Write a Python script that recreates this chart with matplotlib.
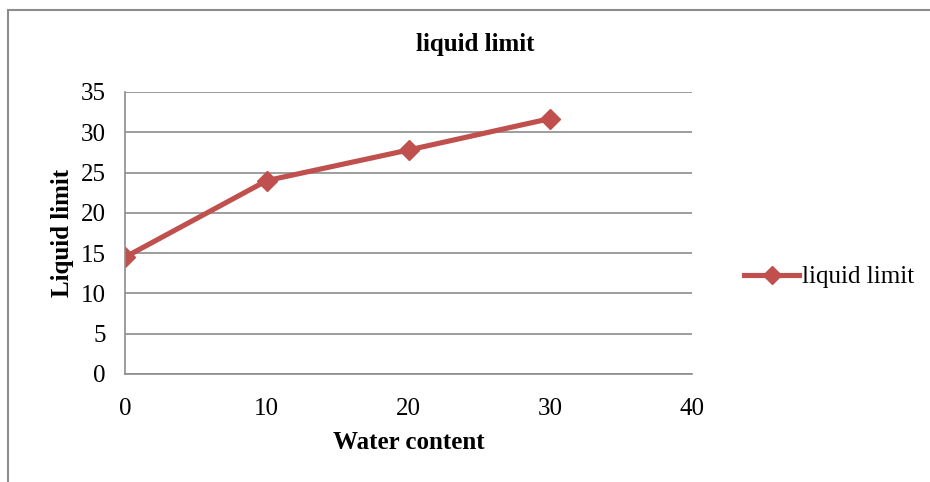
import matplotlib.pyplot as plt
from matplotlib.patches import Rectangle

water_content = [0, 10, 20, 30]
liquid_limit = [14.5, 24.0, 27.8, 31.7]
y_ticks = [0, 5, 10, 15, 20, 25, 30, 35]
x_ticks = [0, 10, 20, 30, 40]

plt.rcParams['font.family'] = ['Liberation Serif', 'DejaVu Serif']

W, H = 930, 482
fig = plt.figure(figsize=(W / 100, H / 100), dpi=100)

# outer chart frame (cut off at right and bottom like the source)
fig.patches.append(Rectangle((8 / W, -0.1), 1.2, 1 - 10 / H + 0.1,
                             transform=fig.transFigure, fill=False,
                             edgecolor='#8c8c8c', linewidth=1.5))

ax = fig.add_axes([125 / W, 1 - 374 / H, (692 - 125) / W, (374 - 92) / H])
red = '#c0504d'
ax.plot(water_content, liquid_limit, color=red, linewidth=3.7,
        marker='D', markersize=10, label='liquid limit')

ax.set_xlim(0, 40)
ax.set_ylim(0, 35)
ax.set_xticks(x_ticks)
ax.set_yticks(y_ticks)
ax.tick_params(axis='x', length=0, labelsize=18, pad=17)
ax.tick_params(axis='y', length=0, labelsize=18, pad=14)
ax.yaxis.grid(True, color='#8c8c8c', linewidth=1.2)
ax.set_axisbelow(True)
for s in ['top', 'right']:
    ax.spines[s].set_visible(False)
for s in ['left', 'bottom']:
    ax.spines[s].set_color('#8c8c8c')
    ax.spines[s].set_linewidth(1.2)

ax.set_xlabel('Water content', fontsize=18, fontweight='bold', labelpad=8)
ax.set_ylabel('Liquid limit', fontsize=18, fontweight='bold', labelpad=5)
fig.text(475 / W, 1 - 45 / H, 'liquid limit', fontsize=18, fontweight='bold',
         ha='center', va='center')

ax.legend(loc='center left', bbox_to_anchor=(744 / W, 1 - 277 / H),
          bbox_transform=fig.transFigure, frameon=False, fontsize=18,
          handlelength=2.2, handletextpad=0.1, markerscale=0.9,
          borderpad=0, borderaxespad=0)

fig.savefig('out.png', dpi=100)
